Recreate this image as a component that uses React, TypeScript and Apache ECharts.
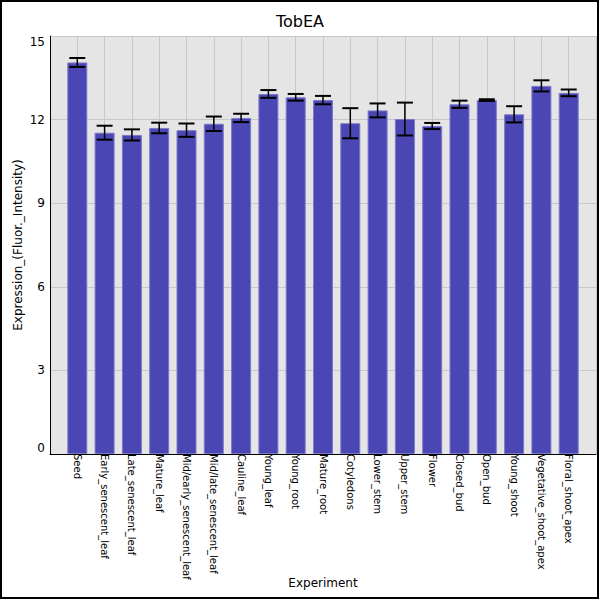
import { useEffect, useRef } from "react";
import * as echarts from "echarts";

const title = "TobEA";
const xName = "Experiment";
const yName = "Expression_(Fluor._Intensity)";

const categories = [
  "Seed",
  "Early_senescent_leaf",
  "Late_senescent_leaf",
  "Mature_leaf",
  "Mid/early_senescent_leaf",
  "Mid/late_senescent_leaf",
  "Cauline_leaf",
  "Young_leaf",
  "Young_root",
  "Mature_root",
  "Cotyledons",
  "Lower_stem",
  "Upper_stem",
  "Flower",
  "Closed_bud",
  "Open_bud",
  "Young_shoot",
  "Vegetative_shoot_apex",
  "Floral_shoot_apex",
];

const means = [
  14.05, 11.53, 11.45, 11.7, 11.62, 11.85, 12.06, 12.92, 12.8, 12.7,
  11.87, 12.33, 12.02, 11.77, 12.55, 12.7, 12.19, 13.21, 12.96,
];

const errors = [
  0.16, 0.25, 0.2, 0.19, 0.24, 0.26, 0.15, 0.14, 0.12, 0.15,
  0.54, 0.25, 0.59, 0.11, 0.13, 0.03, 0.29, 0.2, 0.12,
];

const yTicks = { min: 0, max: 15, interval: 3 };

export default function App() {
  const ref = useRef<HTMLDivElement>(null);

  useEffect(() => {
    document.body.style.margin = "0";
    if (!ref.current) return;
    const chart = echarts.init(ref.current, undefined, { renderer: "svg" });

    const barData = means.map((v, i) => [i, v]);
    const errData = means.map((v, i) => [i, v - errors[i], v + errors[i]]);

    chart.setOption({
      animation: false,
      backgroundColor: "#ffffff",
      textStyle: { fontFamily: "DejaVu Sans", color: "#000" },
      title: {
        text: title,
        left: "center",
        top: 8,
        textStyle: { fontSize: 16, fontWeight: "normal", color: "#000", fontFamily: "DejaVu Sans" },
      },
      grid: {
        left: 50,
        right: 4,
        top: 36,
        bottom: 146,
        containLabel: false,
        outerBoundsMode: "none",
        show: true,
        backgroundColor: "#e5e5e5",
        borderWidth: 0,
      },
      xAxis: {
        type: "value",
        min: -1,
        max: 19,
        interval: 1,
        name: xName,
        nameLocation: "middle",
        nameGap: 123,
        nameMoveOverlap: false,
        nameTextStyle: { fontSize: 12, color: "#000" },
        axisLine: { onZero: false, lineStyle: { color: "#000", width: 1 } },
        axisTick: { show: false },
        splitLine: { show: true, lineStyle: { color: "#c8c8c8", width: 1 } },
        axisLabel: {
          rotate: -90,
          margin: 0,
          fontSize: 10,
          color: "#000",
          formatter: (v: number) => categories[v] ?? "",
        },
      },
      yAxis: {
        type: "value",
        ...yTicks,
        name: yName,
        nameLocation: "middle",
        nameGap: 26,
        nameMoveOverlap: false,
        nameTextStyle: { fontSize: 12, color: "#000" },
        axisLine: { show: true, onZero: false, lineStyle: { color: "#000", width: 1 } },
        axisTick: { show: false },
        splitLine: { show: true, lineStyle: { color: "#c8c8c8", width: 1 } },
        axisLabel: {
          fontSize: 12,
          color: "#000",
          margin: 5,
          verticalAlignMinLabel: "bottom",
          verticalAlignMaxLabel: "top",
        },
      },
      series: [
        {
          type: "bar",
          data: barData,
          barWidth: 20,
          itemStyle: { color: "#4a46b4", borderColor: "#7d79c9", borderWidth: 1 },
          z: 2,
        },
        {
          type: "custom",
          data: errData,
          z: 3,
          renderItem: (_params: any, api: any) => {
            const x = api.value(0);
            const lo = api.coord([x, api.value(1)]);
            const hi = api.coord([x, api.value(2)]);
            const hw = 8;
            return {
              type: "group",
              children: [
                {
                  type: "line",
                  shape: { x1: lo[0], y1: lo[1], x2: hi[0], y2: hi[1] },
                  style: { stroke: "#000", lineWidth: 1.5 },
                },
                {
                  type: "line",
                  shape: { x1: hi[0] - hw, y1: hi[1], x2: hi[0] + hw, y2: hi[1] },
                  style: { stroke: "#000", lineWidth: 2 },
                },
                {
                  type: "line",
                  shape: { x1: lo[0] - hw, y1: lo[1], x2: lo[0] + hw, y2: lo[1] },
                  style: { stroke: "#000", lineWidth: 2 },
                },
              ],
            };
          },
        },
      ],
      graphic: [
        {
          type: "rect",
          shape: { x: 1, y: 1, width: 597, height: 597 },
          style: { fill: "none", stroke: "#000", lineWidth: 2 },
          silent: true,
        },
      ],
    });

    return () => chart.dispose();
  }, []);

  return <div ref={ref} style={{ width: 600, height: 600 }} />;
}
